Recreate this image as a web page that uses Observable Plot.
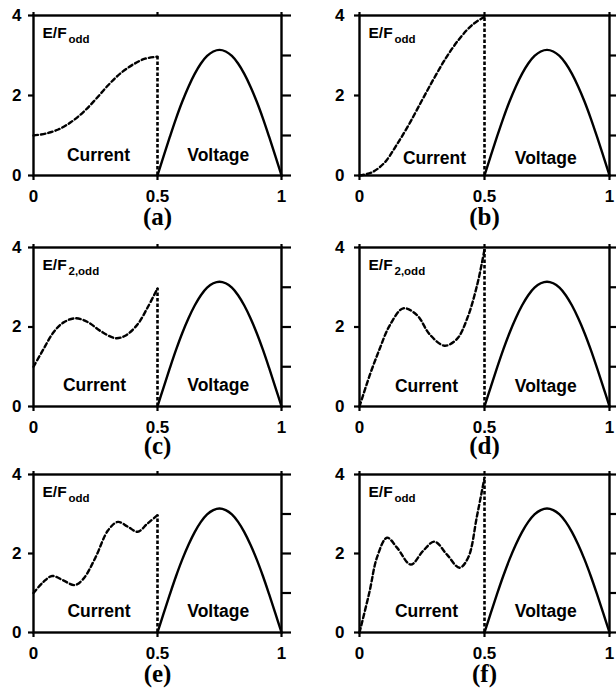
<!DOCTYPE html>
<html><head><meta charset="utf-8">
<script src="https://cdn.jsdelivr.net/npm/d3@7"></script>
<script src="https://cdn.jsdelivr.net/npm/@observablehq/plot@0.6"></script>
<style>
body{margin:0;background:#fff}
#root{position:relative;width:616px;height:688px;background:#fff;overflow:hidden}
#root > div{position:absolute}
</style></head><body><div id="root"></div>
<script>
// ---- data ----
const panelLetters = ["(a)", "(b)", "(c)", "(d)", "(e)", "(f)"];
const titleMain = "E/F";
const titleSubs = ["odd", "odd", "2,odd", "2,odd", "odd", "odd"];
const regionLabels = ["Current", "Voltage"];
const xTicks = [0, 0.5, 1];
const xTickLabels = ["0", "0.5", "1"];
const yTicks = [0, 2, 4];
const yTickLabels = ["0", "2", "4"];
const yMinorTicks = [0, 1, 2, 3, 4];

const voltageX = [0.5, 0.525, 0.55, 0.575, 0.6, 0.625, 0.65, 0.675, 0.7, 0.725, 0.75,
                  0.775, 0.8, 0.825, 0.85, 0.875, 0.9, 0.925, 0.95, 0.975, 1];
const voltageY = [0, 0.49, 0.97, 1.43, 1.85, 2.22, 2.54, 2.80, 2.99, 3.10, 3.14,
                  3.10, 2.99, 2.80, 2.54, 2.22, 1.85, 1.43, 0.97, 0.49, 0];

const currentAX = [0, 0.05, 0.10, 0.15, 0.20, 0.25, 0.30, 0.35, 0.40, 0.45, 0.5];
const currentAY = [1.0, 1.05, 1.15, 1.33, 1.58, 1.9, 2.25, 2.55, 2.77, 2.92, 2.97];
const currentBX = [0, 0.05, 0.10, 0.15, 0.20, 0.25, 0.30, 0.35, 0.40, 0.45, 0.5];
const currentBY = [0, 0.08, 0.32, 0.78, 1.3, 1.88, 2.45, 2.98, 3.42, 3.76, 3.97];
const currentCX = [0, 0.04, 0.08, 0.12, 0.17, 0.22, 0.27, 0.33, 0.37, 0.42, 0.46, 0.5];
const currentCY = [1.0, 1.44, 1.86, 2.11, 2.22, 2.12, 1.9, 1.72, 1.78, 2.07, 2.49, 2.97];
const currentDX = [0, 0.04, 0.08, 0.12, 0.175, 0.23, 0.28, 0.34, 0.39, 0.43, 0.47, 0.5];
const currentDY = [0, 0.77, 1.44, 2.03, 2.47, 2.3, 1.82, 1.53, 1.7, 2.2, 3.04, 3.95];
const currentEX = [0, 0.04, 0.075, 0.12, 0.165, 0.2, 0.25, 0.3, 0.34, 0.38, 0.42, 0.46, 0.5];
const currentEY = [1.0, 1.28, 1.43, 1.32, 1.2, 1.35, 1.9, 2.58, 2.8, 2.68, 2.55, 2.76, 2.97];
const currentFX = [0, 0.04, 0.07, 0.11, 0.15, 0.205, 0.255, 0.30, 0.35, 0.40, 0.435, 0.47, 0.5];
const currentFY = [0, 1.03, 1.9, 2.4, 2.15, 1.72, 2.07, 2.3, 1.97, 1.64, 1.9, 2.95, 3.92];

const currentXs = [currentAX, currentBX, currentCX, currentDX, currentEX, currentFX];
const currentYs = [currentAY, currentBY, currentCY, currentDY, currentEY, currentFY];

// ---- layout ----
const cols = [
  {left: 0, width: 306, ml: 33, mr: 25, pad: 7},
  {left: 306, width: 310, ml: 53, mr: 7, pad: 10}
];
const rows = [
  {top: 15, bottom: 175, letterDy: 41},
  {top: 247, bottom: 406, letterDy: 39},
  {top: 474, bottom: 632, letterDy: 41}
];
const currentLabelX = [0.262, 0.30, 0.246, 0.268, 0.264, 0.268];
const regionLabelY = [0.5, 0.43, 0.54, 0.5, 0.53, 0.53];

const root = document.getElementById("root");
const volt = voltageX.map((x, j) => ({x, y: voltageY[j]}));

for (let i = 0; i < 6; i++) {
  const r = rows[Math.floor(i / 2)], c = cols[i % 2];
  const cur = currentXs[i].map((x, j) => ({x, y: currentYs[i][j]}));
  const last = cur[cur.length - 1];
  const mt = 15, mb = 60;
  const plot = Plot.plot({
    width: c.width,
    height: (r.bottom - r.top) + mt + mb,
    marginLeft: c.ml, marginRight: c.mr, marginTop: mt, marginBottom: mb,
    x: {domain: [0, 1], label: null},
    y: {domain: [0, 4], label: null},
    style: {fontFamily: "'Liberation Sans', Arial, sans-serif", fontSize: "17px", fontWeight: "bold",
            color: "#000", background: "transparent", overflow: "visible"},
    marks: [
      Plot.axisX(xTicks, {anchor: "bottom", tickSize: 5, tickPadding: 9, strokeWidth: 2.2, label: null,
        fontSize: 17, tickFormat: d => xTickLabels[xTicks.indexOf(d)]}),
      Plot.axisX(xTicks, {anchor: "top", tickSize: 4, strokeWidth: 2.2, label: null, tickFormat: () => ""}),
      Plot.axisY(yTicks, {anchor: "left", tickSize: 5, tickPadding: c.pad, strokeWidth: 2.2, label: null,
        fontSize: 17, tickFormat: d => yTickLabels[yTicks.indexOf(d)]}),
      Plot.axisY(yMinorTicks, {anchor: "right", tickSize: 9, strokeWidth: 2.2, label: null, tickFormat: () => ""}),
      Plot.frame({stroke: "#000", strokeWidth: 2.4}),
      Plot.line(cur, {x: "x", y: "y", curve: "catmull-rom", stroke: "#000", strokeWidth: 2.4, strokeDasharray: "4.5,3"}),
      Plot.ruleX([last], {x: "x", y1: 0, y2: "y", stroke: "#000", strokeWidth: 2.6, strokeDasharray: "3.5,2"}),
      Plot.line(volt, {x: "x", y: "y", curve: "catmull-rom", stroke: "#000", strokeWidth: 2.4}),
      Plot.text([titleMain], {text: d => d, frameAnchor: "top-left", dx: 9, dy: 11, lineAnchor: "top",
        textAnchor: "start", fontSize: 15.5}),
      Plot.text([titleSubs[i]], {text: d => d, frameAnchor: "top-left", dx: 35, dy: 19, lineAnchor: "top",
        textAnchor: "start", fontSize: 11.5}),
      Plot.text([regionLabels[0]], {text: d => d, x: currentLabelX[i], y: regionLabelY[i], fontSize: 17.5}),
      Plot.text([regionLabels[1]], {text: d => d, x: 0.745, y: regionLabelY[i], fontSize: 17.5}),
      Plot.text([panelLetters[i]], {text: d => d, x: 0.5, y: 0, dy: r.letterDy, fontSize: 25,
        fontFamily: "'Liberation Serif', 'Times New Roman', serif"})
    ]
  });
  const holder = document.createElement("div");
  holder.style.left = c.left + "px";
  holder.style.top = (r.top - mt) + "px";
  holder.appendChild(plot);
  root.appendChild(holder);
}
</script></body></html>
